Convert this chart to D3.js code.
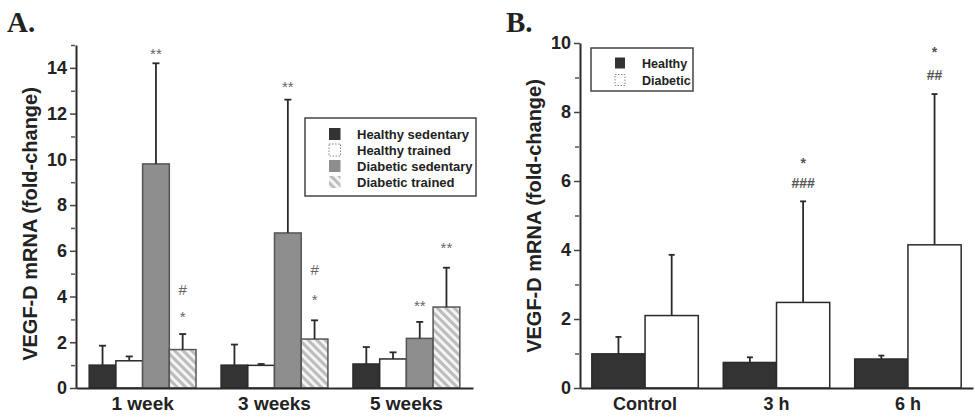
<!DOCTYPE html>
<html>
<head>
<meta charset="utf-8">
<script src="https://cdn.jsdelivr.net/npm/d3@7"></script>
<style>
  html, body { margin: 0; padding: 0; background: #fff; }
  svg { display: block; font-family: "Liberation Sans", Arial, sans-serif; }
</style>
</head>
<body>
<svg id="chart" width="975" height="417"></svg>
<script>
// ---------------- DATA ----------------
// Panel A
const groupsA = ["1 week", "3 weeks", "5 weeks"];
const seriesA = ["Healthy sedentary", "Healthy trained", "Diabetic sedentary", "Diabetic trained"];
const healthySedentary      = [1.00, 1.00, 1.05];
const healthySedentaryErr   = [0.85, 0.90, 0.74];
const healthyTrained        = [1.19, 0.99, 1.27];
const healthyTrainedErr     = [0.19, 0.06, 0.29];
const diabeticSedentary     = [9.80, 6.78, 2.17];
const diabeticSedentaryErr  = [4.40, 5.83, 0.72];
const diabeticTrained       = [1.68, 2.14, 3.54];
const diabeticTrainedErr    = [0.68, 0.82, 1.72];
const ticksA = [0, 2, 4, 6, 8, 10, 12, 14];
const minorTicksA = [1, 3, 5, 7, 9, 11, 13, 15];
const marksA = [
  { group: "1 week",  series: "Diabetic sedentary", text: "**", at: 14.77 },
  { group: "1 week",  series: "Diabetic trained",   text: "#",  at: 4.30 },
  { group: "1 week",  series: "Diabetic trained",   text: "*",  at: 3.28 },
  { group: "3 weeks", series: "Diabetic sedentary", text: "**", at: 13.31 },
  { group: "3 weeks", series: "Diabetic trained",   text: "#",  at: 5.17 },
  { group: "3 weeks", series: "Diabetic trained",   text: "*",  at: 4.01 },
  { group: "5 weeks", series: "Diabetic sedentary", text: "**", at: 3.74 },
  { group: "5 weeks", series: "Diabetic trained",   text: "**", at: 6.27 }
];

// Panel B
const groupsB = ["Control", "3 h", "6 h"];
const seriesB = ["Healthy", "Diabetic"];
const healthyB     = [0.99, 0.74, 0.84];
const healthyBErr  = [0.49, 0.15, 0.10];
const diabeticB    = [2.10, 2.48, 4.15];
const diabeticBErr = [1.76, 2.93, 4.37];
const ticksB = [0, 2, 4, 6, 8, 10];
const minorTicksB = [1, 3, 5, 7, 9];
const marksB = [
  { group: "3 h", series: "Diabetic", text: "*",   at: 6.60 },
  { group: "3 h", series: "Diabetic", text: "###", at: 5.94 },
  { group: "6 h", series: "Diabetic", text: "*",   at: 9.83 },
  { group: "6 h", series: "Diabetic", text: "##",  at: 9.08 }
];

const yLabel = "VEGF-D mRNA (fold-change)";

// ---------------- DRAW ----------------
const SANS = '"Liberation Sans", Arial, sans-serif';
const SERIF = '"Liberation Serif", "Times New Roman", serif';
const svg = d3.select("#chart");
const defs = svg.append("defs");
const pat = defs.append("pattern")
  .attr("id", "hatch").attr("patternUnits", "userSpaceOnUse")
  .attr("width", 6).attr("height", 6)
  .attr("patternTransform", "rotate(-45)");
pat.append("rect").attr("width", 6).attr("height", 6).attr("fill", "#f4f4f4");
pat.append("rect").attr("width", 3).attr("height", 6).attr("fill", "#bcbcbc");

const styleA = {
  "Healthy sedentary":  { fill: "#333",        stroke: "#2a2a2a" },
  "Healthy trained":    { fill: "#fff",        stroke: "#2a2a2a" },
  "Diabetic sedentary": { fill: "#8e8e8e",     stroke: "#555" },
  "Diabetic trained":   { fill: "url(#hatch)", stroke: "#555" }
};
const styleB = {
  "Healthy":  { fill: "#333", stroke: "#2a2a2a" },
  "Diabetic": { fill: "#fff", stroke: "#2a2a2a" }
};

function panel(cfg) {
  const g = svg.append("g");
  const y = d3.scaleLinear().domain(cfg.domain).range([388, cfg.top]);
  const x0 = d3.scaleBand().domain(cfg.groups).range([cfg.left, cfg.right])
    .paddingInner(0.19).paddingOuter(cfg.outer);
  const x1 = d3.scaleBand().domain(cfg.series).range([0, x0.bandwidth()]).padding(0);

  const rows = [];
  cfg.groups.forEach((grp, gi) => {
    cfg.series.forEach((s, si) => {
      rows.push({ grp, s, v: cfg.values[si][gi], e: cfg.errors[si][gi] });
    });
  });
  g.selectAll("rect.bar").data(rows).join("rect")
    .attr("class", "bar")
    .attr("x", d => x0(d.grp) + x1(d.s))
    .attr("y", d => y(d.v))
    .attr("width", x1.bandwidth())
    .attr("height", d => y(0) - y(d.v))
    .attr("fill", d => cfg.style[d.s].fill)
    .attr("stroke", d => cfg.style[d.s].stroke)
    .attr("stroke-width", 1.5);
  const eb = g.selectAll("g.err").data(rows).join("g").attr("class", "err")
    .attr("stroke", "#2a2a2a").attr("stroke-width", 1.8);
  eb.append("line")
    .attr("x1", d => x0(d.grp) + x1(d.s) + x1.bandwidth() / 2)
    .attr("x2", d => x0(d.grp) + x1(d.s) + x1.bandwidth() / 2)
    .attr("y1", d => y(d.v)).attr("y2", d => y(d.v + d.e));
  eb.append("line")
    .attr("x1", d => x0(d.grp) + x1(d.s) + x1.bandwidth() / 2 - cfg.cap)
    .attr("x2", d => x0(d.grp) + x1(d.s) + x1.bandwidth() / 2 + cfg.cap)
    .attr("y1", d => y(d.v + d.e)).attr("y2", d => y(d.v + d.e));

  g.selectAll("text.mark").data(cfg.marks).join("text")
    .attr("class", "mark")
    .attr("x", d => x0(d.group) + x1(d.series) + x1.bandwidth() / 2)
    .attr("y", d => y(d.at) + (d.text.includes("#") ? 0.36 : 0.58) * cfg.markSize)
    .attr("text-anchor", "middle")
    .style("font-family", SANS)
    .attr("font-size", cfg.markSize)
    .attr("font-weight", cfg.markWeight)
    .attr("fill", cfg.markColor)
    .text(d => d.text);

  const ax = g.append("g").attr("transform", `translate(${cfg.left},0)`)
    .call(d3.axisLeft(y).tickValues(cfg.ticks).tickSize(6).tickSizeOuter(0).tickPadding(3));
  ax.select(".domain").attr("stroke", "#2a2a2a").attr("stroke-width", 2);
  ax.selectAll(".tick line").attr("stroke", "#444").attr("stroke-width", 1.5);
  ax.selectAll(".tick text").style("font-family", SANS).attr("font-size", 18)
    .attr("font-weight", "bold").attr("fill", "#222");
  const axm = g.append("g").attr("transform", `translate(${cfg.left - 1},0)`)
    .call(d3.axisLeft(y).tickValues(cfg.minor).tickSize(4).tickFormat(""));
  axm.select(".domain").remove();
  axm.selectAll(".tick line").attr("stroke", "#555").attr("stroke-width", 1.5);

  const bx = g.append("g").attr("transform", "translate(0,388)")
    .call(d3.axisBottom(x0).tickSize(0).tickSizeOuter(0).tickPadding(9));
  bx.select(".domain").attr("stroke", "#2a2a2a").attr("stroke-width", 2);
  bx.selectAll(".tick text").style("font-family", SANS).attr("font-size", cfg.xFont)
    .attr("font-weight", "bold").attr("fill", "#222");

  g.append("text")
    .attr("transform", `translate(${cfg.labelX},${cfg.labelY}) rotate(-90)`)
    .attr("text-anchor", "middle")
    .style("font-family", SANS)
    .attr("font-size", 20).attr("font-weight", "bold").attr("fill", "#222")
    .text(yLabel);

  g.append("text").attr("x", cfg.letterX).attr("y", 32)
    .style("font-family", SERIF)
    .attr("font-size", 29).attr("font-weight", "bold").attr("fill", "#222")
    .text(cfg.letter);

  const L = cfg.legend;
  const lg = g.append("g");
  lg.append("rect").attr("x", L.x).attr("y", L.y).attr("width", L.w).attr("height", L.h)
    .attr("fill", "#fff").attr("stroke", "#444").attr("stroke-width", 1.5);
  cfg.series.forEach((s, i) => {
    const cy = L.y + L.first + i * L.step;
    const st = cfg.style[s];
    const white = st.fill === "#fff";
    lg.append("rect").attr("x", L.sx).attr("y", cy - L.ss / 2)
      .attr("width", L.sw).attr("height", L.ss)
      .attr("fill", st.fill)
      .attr("stroke", white ? "#888" : "none")
      .attr("stroke-dasharray", white ? "1.5,1.5" : null)
      .attr("stroke-width", 1);
    lg.append("text").attr("x", L.tx).attr("y", cy + L.fs * 0.36)
      .style("font-family", SANS)
      .attr("font-size", L.fs).attr("font-weight", "bold").attr("fill", "#222")
      .text(s);
  });
}

panel({
  groups: groupsA, series: seriesA,
  values: [healthySedentary, healthyTrained, diabeticSedentary, diabeticTrained],
  errors: [healthySedentaryErr, healthyTrainedErr, diabeticSedentaryErr, diabeticTrainedErr],
  style: styleA, domain: [0, 15], top: 45, left: 76, right: 473, outer: 0.1,
  ticks: ticksA, minor: minorTicksA, marks: marksA, cap: 3.5,
  markSize: 15, markWeight: "normal", markColor: "#666", xFont: 19,
  labelX: 37, labelY: 224, letter: "A.", letterX: 7,
  legend: { x: 305, y: 118, w: 171, h: 78, first: 16, step: 16, sx: 329, sw: 11.5, ss: 12, tx: 357, fs: 13 }
});

panel({
  groups: groupsB, series: seriesB,
  values: [healthyB, diabeticB],
  errors: [healthyBErr, diabeticBErr],
  style: styleB, domain: [0, 10], top: 43, left: 580, right: 973, outer: 0.09,
  ticks: ticksB, minor: minorTicksB, marks: marksB, cap: 3,
  markSize: 14, markWeight: "bold", markColor: "#555", xFont: 18,
  labelX: 541, labelY: 216, letter: "B.", letterX: 506,
  legend: { x: 591, y: 48, w: 102, h: 43, first: 15, step: 17, sx: 615, sw: 10, ss: 11, tx: 642, fs: 12.5 }
});
</script>
</body>
</html>
